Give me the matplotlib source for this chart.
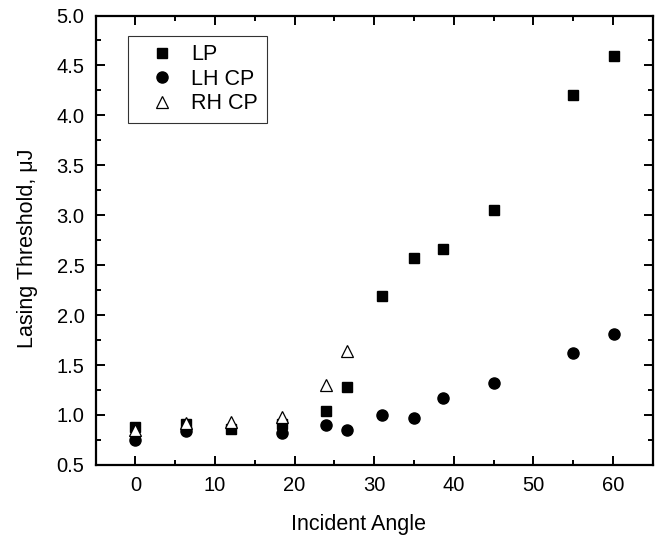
import numpy as np
import matplotlib.pyplot as plt
from matplotlib.ticker import MultipleLocator

plt.rcParams['font.family'] = ['Liberation Sans', 'DejaVu Sans']

# LP (linear polarisation)
lp_angle = [0, 6.3, 12, 18.4, 23.9, 26.6, 31.0, 35.0, 38.6, 45.0, 55.0, 60.1]
lp_thresh = [0.88, 0.91, 0.86, 0.91, 1.04, 1.28, 2.19, 2.57, 2.66, 3.05, 4.20, 4.59]

# LH CP
lh_angle = [0, 6.3, 18.4, 23.9, 26.6, 31.0, 35.0, 38.6, 45.0, 55.0, 60.1]
lh_thresh = [0.75, 0.84, 0.82, 0.90, 0.85, 1.00, 0.97, 1.17, 1.32, 1.62, 1.81]

# RH CP
rh_angle = [0, 6.3, 12, 18.4, 23.9, 26.6]
rh_thresh = [0.85, 0.92, 0.93, 0.98, 1.30, 1.64]

fig = plt.figure(figsize=(6.64, 5.35), dpi=100)
ax = fig.add_axes([0.144, 0.131, 0.839, 0.840])

ax.plot(lp_angle, lp_thresh, 's', color='black', markersize=7, label='LP')
ax.plot(lh_angle, lh_thresh, 'o', color='black', markersize=8, label='LH CP')
ax.plot(rh_angle, rh_thresh, '^', markerfacecolor='white', markeredgecolor='black',
        markeredgewidth=0.9, markersize=9, label='RH CP')

ax.set_xlim(-5, 65)
ax.set_ylim(0.5, 5.0)
ax.xaxis.set_major_locator(MultipleLocator(10))
ax.xaxis.set_minor_locator(MultipleLocator(5))
ax.yaxis.set_major_locator(MultipleLocator(0.5))
ax.yaxis.set_minor_locator(MultipleLocator(0.25))
ax.yaxis.set_major_formatter(plt.FormatStrFormatter('%.1f'))

ax.tick_params(which='both', direction='in', top=True, right=True, width=1.4, labelsize=14.5)
ax.tick_params(which='major', length=6.5, pad=8)
ax.tick_params(which='minor', length=3.5)
for sp in ax.spines.values():
    sp.set_linewidth(1.6)

ax.set_xlabel('Incident Angle', fontsize=15.5)
ax.xaxis.set_label_coords(0.471, -0.109)
ax.set_ylabel('Lasing Threshold, μJ', fontsize=15.5)
ax.yaxis.set_label_coords(-0.103, 0.482)

leg = ax.legend(loc='upper left', bbox_to_anchor=(0.0575, 0.955), borderaxespad=0,
                fontsize=15.5, frameon=True, fancybox=False, edgecolor='black',
                handletextpad=0.15, labelspacing=0.16, borderpad=0.4, handlelength=2.4)
leg.get_frame().set_linewidth(0.8)

fig.savefig('out.png', dpi=100)
